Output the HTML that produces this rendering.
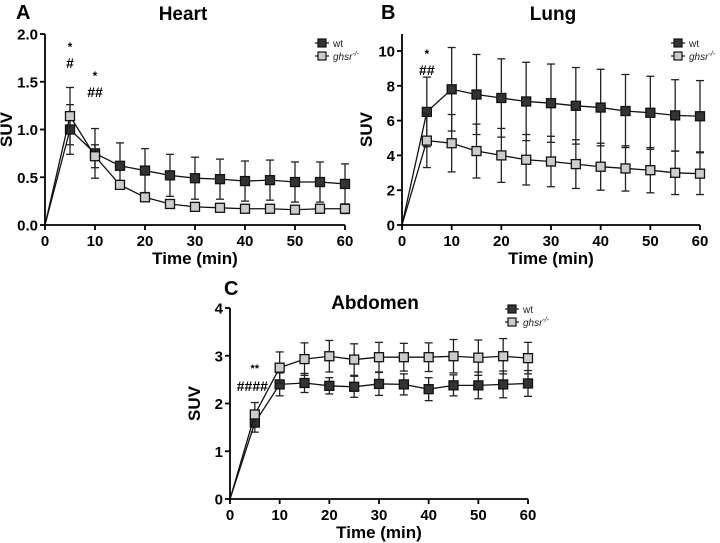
<!DOCTYPE html>
<html><head><meta charset="utf-8"><style>
body{margin:0;background:#fff}
svg{display:block;font-family:"Liberation Sans",Arial,sans-serif}
</style></head><body>
<svg id="chart" width="720" height="543" viewBox="0 0 720 543"></svg>
<script>
const times=[0,5,10,15,20,25,30,35,40,45,50,55,60];
const heartWt=[0,1.0,0.75,0.62,0.57,0.52,0.49,0.48,0.46,0.47,0.45,0.45,0.43];
const heartWtErr=[0,0.26,0.26,0.24,0.23,0.22,0.22,0.21,0.21,0.21,0.21,0.21,0.21];
const heartKo=[0,1.14,0.72,0.42,0.29,0.22,0.19,0.18,0.17,0.17,0.16,0.17,0.17];
const heartKoErr=[0,0.3,0.12,0.04,0.03,0.02,0.02,0.02,0.03,0.03,0.04,0.04,0.05];
const lungWt=[0,6.5,7.8,7.5,7.3,7.1,7.0,6.85,6.75,6.55,6.45,6.3,6.25];
const lungWtErr=[0,2.0,2.4,2.3,2.25,2.25,2.25,2.2,2.2,2.1,2.1,2.05,2.05];
const lungKo=[0,4.85,4.7,4.25,4.0,3.75,3.65,3.5,3.35,3.25,3.15,3.0,2.95];
const lungKoErr=[0,1.55,1.65,1.55,1.55,1.45,1.45,1.4,1.35,1.3,1.3,1.25,1.2];
const abdWt=[0,1.6,2.4,2.43,2.37,2.35,2.41,2.4,2.3,2.38,2.38,2.4,2.42];
const abdWtErr=[0,0.2,0.24,0.2,0.17,0.22,0.24,0.22,0.24,0.22,0.28,0.28,0.27];
const abdKo=[0,1.77,2.75,2.93,2.99,2.92,2.97,2.97,2.97,2.99,2.96,2.99,2.95];
const abdKoErr=[0,0.25,0.33,0.34,0.33,0.33,0.31,0.29,0.3,0.35,0.37,0.37,0.33];
const xTicks=[0,10,20,30,40,50,60];
const heartTicks=["0.0","0.5","1.0","1.5","2.0"];
const lungTicks=["0","2","4","6","8","10"];
const abdTicks=["0","1","2","3","4"];

const NS="http://www.w3.org/2000/svg";
const svg=document.getElementById('chart');
function el(tag,attrs,parent,text){const e=document.createElementNS(NS,tag);for(const k in attrs)e.setAttribute(k,attrs[k]);if(text!==undefined)e.textContent=text;(parent||svg).appendChild(e);return e;}

function panel(o){
  const g=el('g',{});
  
  
  const xs=v=>o.x0+(v-0)/60*(o.x1-o.x0);
  const ys=v=>o.y0-v/o.ymax*(o.y0-o.yTop);
  const ax=el('line',{x1:o.x0,y1:o.y0,x2:o.x1,y2:o.y0,stroke:'#000','stroke-width':1.8},g);
  
  const ay=el('line',{x1:o.x0,y1:o.y0,x2:o.x0,y2:o.axisTop,stroke:'#000','stroke-width':1.8},g);
  
  xTicks.forEach(t=>{
    el('line',{x1:xs(t),y1:o.y0,x2:xs(t),y2:o.y0+5,stroke:'#000','stroke-width':1.8},g);
    const tl=el('text',{x:xs(t),y:o.y0+21,'text-anchor':'middle','font-size':15,'font-weight':'bold'},g,t);
    
  });
  o.yTicks.forEach(t=>{
    const v=parseFloat(t);
    el('line',{x1:o.x0-5,y1:ys(v),x2:o.x0,y2:ys(v),stroke:'#000','stroke-width':1.8},g);
    const tl=el('text',{x:o.x0-7,y:ys(v)+5.5,'text-anchor':'end','font-size':15,'font-weight':'bold'},g,t);
    
  });
  const xt=el('text',{x:(o.x0+o.x1)/2,y:o.y0+39,'text-anchor':'middle','font-size':17,'font-weight':'bold'},g,'Time (min)');
  
  const yc=(o.y0+o.axisTop)/2;
  const yx=o.x0-o.ytOff;
  const yt=el('text',{x:yx,y:yc,'text-anchor':'middle','font-size':17,'font-weight':'bold',transform:`rotate(-90 ${yx} ${yc})`},g,'SUV');
  
  const tt=el('text',{x:o.tx,y:o.ty,'text-anchor':'middle','font-size':19,'font-weight':'bold'},g,o.title);
  
  const pl=el('text',{x:o.lx,y:o.ly,'font-size':20,'font-weight':'bold'},g,o.letter);
  
  const series=[[o.wt,o.wtErr,'#333','wt'],[o.ko,o.koErr,'#ccc','ghsr']];
  series.forEach(([vals,errs,fill,nm])=>{
    const sg=el('g',{},g);
    
    for(let i=1;i<times.length;i++){
      const x=xs(times[i]);
      el('line',{x1:x,y1:ys(vals[i]-errs[i]),x2:x,y2:ys(vals[i]+errs[i]),stroke:'#222','stroke-width':1.3},sg);
      [vals[i]-errs[i],vals[i]+errs[i]].forEach(v=>el('line',{x1:x-4,y1:ys(v),x2:x+4,y2:ys(v),stroke:'#222','stroke-width':1.3},sg));
    }
    el('polyline',{points:times.map((t,i)=>xs(t)+','+ys(vals[i])).join(' '),fill:'none',stroke:'#111','stroke-width':1.3},sg);
    for(let i=1;i<times.length;i++){
      const m=el('rect',{x:xs(times[i])-4.5,y:ys(vals[i])-4.5,width:9,height:9,fill:fill,stroke:'#111','stroke-width':1.3},sg);
      
    }
  });
  const lg=el('g',{},g);
  
  [['#333','wt',o.legY],['#ccc','ghsr',o.legY+13]].forEach(([f,lab,y])=>{
    el('line',{x1:o.legX-7,y1:y,x2:o.legX+7,y2:y,stroke:'#111','stroke-width':1.2},lg);
    el('rect',{x:o.legX-4,y:y-4,width:8,height:8,fill:f,stroke:'#111','stroke-width':1.2},lg);
    const t=el('text',{x:o.legX+11,y:y+4,'font-size':10,'font-style':lab==='ghsr'?'italic':'normal',fill:'#222'},lg,lab);
    if(lab==='ghsr'){el('tspan',{dy:-4,'font-size':7},t,'-/-');}
    
  });
  o.ann.forEach(([x,y,s,fs])=>{
    const a=el('text',{x:xs(x),y:y,'text-anchor':'middle','font-size':fs||13,'font-weight':'bold'},g,s);
    
  });
}
panel({name:'heart',x0:45,x1:345,y0:225,yTop:34,axisTop:34,ymax:2,yTicks:heartTicks,wt:heartWt,wtErr:heartWtErr,ko:heartKo,koErr:heartKoErr,
  title:'Heart',tx:183,ty:20,letter:'A',lx:16,ly:19,legX:322,legY:43,ytOff:33,
  ann:[[5,51,'*',12],[5,68,'#',14],[10,80,'*',12],[10,97,'##',14]]});
panel({name:'lung',x0:402,x1:700,y0:225,yTop:51,axisTop:34,ymax:10,yTicks:lungTicks,wt:lungWt,wtErr:lungWtErr,ko:lungKo,koErr:lungKoErr,
  title:'Lung',tx:553,ty:20,letter:'B',lx:381,ly:19,legX:678,legY:43,ytOff:30,
  ann:[[5,58,'*',12],[5,75,'##',14]]});
panel({name:'abdomen',x0:230,x1:528,y0:499,yTop:308,axisTop:308,ymax:4,yTicks:abdTicks,wt:abdWt,wtErr:abdWtErr,ko:abdKo,koErr:abdKoErr,
  title:'Abdomen',tx:375,ty:309,letter:'C',lx:224,ly:295,legX:512,legY:309,ytOff:30,
  ann:[[5,372,'**',11],[4.5,391,'####',14]]});
</script>
</body></html>
